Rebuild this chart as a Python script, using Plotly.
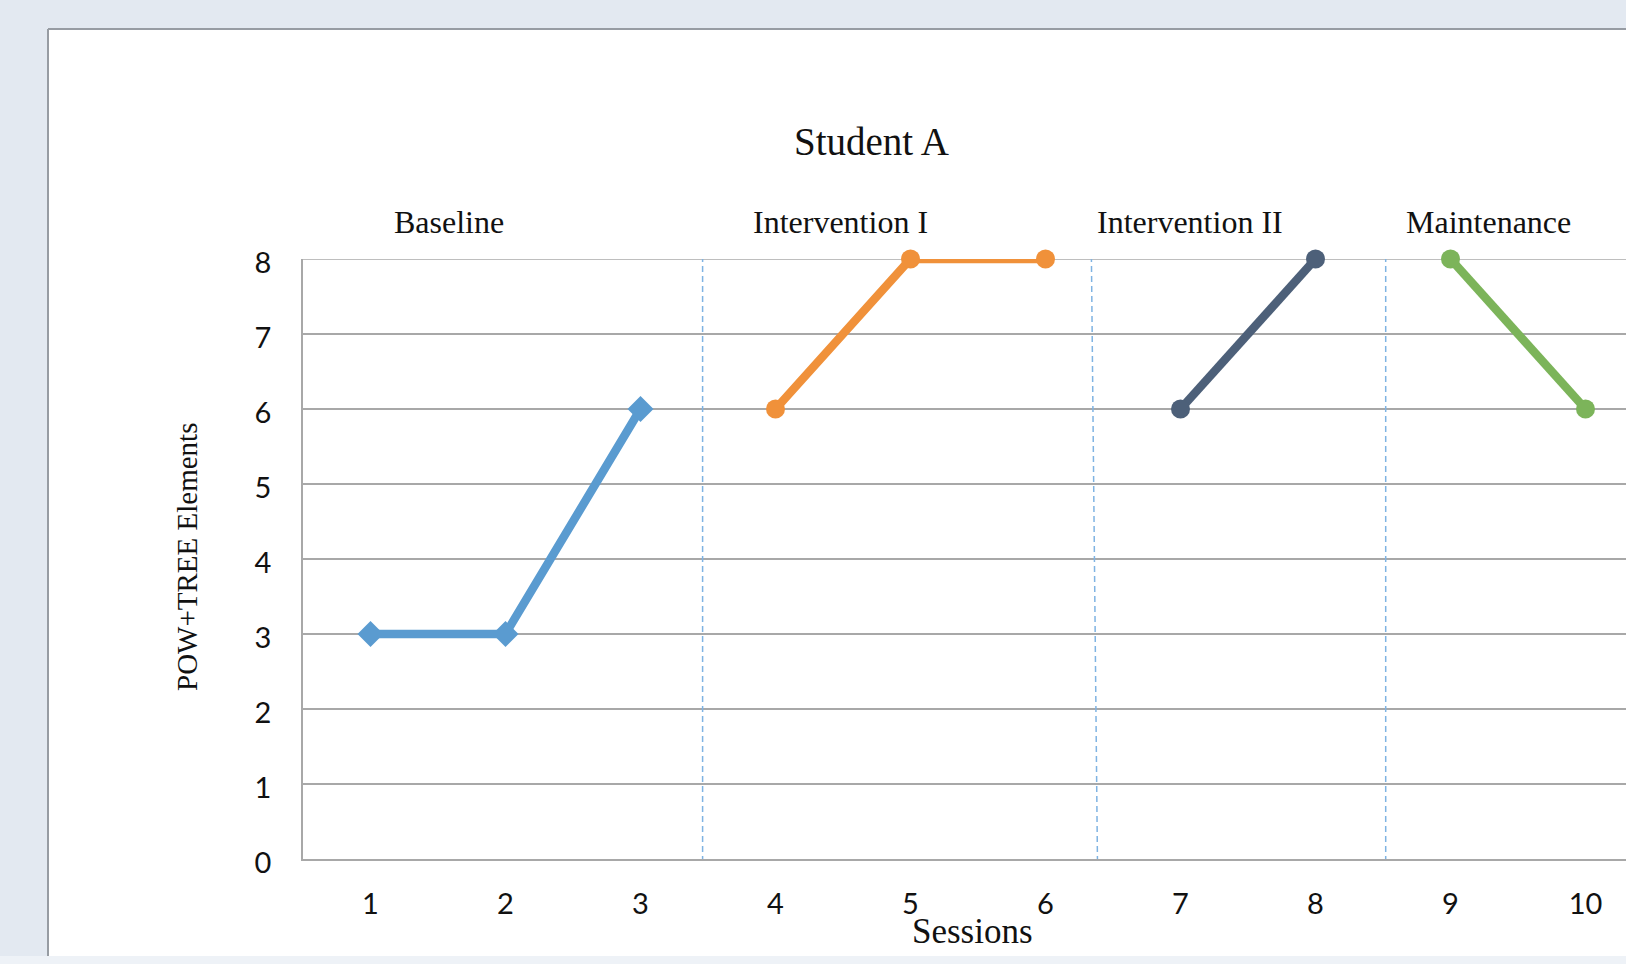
import plotly.graph_objects as go

# Session scores per phase
baseline_x = [1, 2, 3]
baseline_y = [3, 3, 6]
interv1_x = [4, 5, 6]
interv1_y = [6, 8, 8]
interv2_x = [7, 8]
interv2_y = [6, 8]
maint_x = [9, 10]
maint_y = [8, 6]

session_ticks = list(range(1, 11))
phase_names = ["Baseline", "Intervention I", "Intervention II", "Maintenance"]
phase_label_x = [449, 840, 1190, 1488]      # pixel centres of the phase captions
phase_breaks = [(3.46, 3.46), (6.34, 6.385), (8.52, 8.52)]  # (top, bottom) x of dashed dividers

W, H = 1626, 964
L, R, T, B = 303, 0, 259, 105
PW, PH = W - L - R, H - T - B
X_MAX = 0.5 + PW / 135.0


def px(x):
    return (x - L) / PW


def py(y):
    return (H - B - y) / PH


serif = "Liberation Serif, Times New Roman, serif"
sans = "Lato, Open Sans, sans-serif"
grid_col = "#a8a8a8"

fig = go.Figure()

series = [
    (baseline_x, baseline_y, "#5a9bd0", "diamond", 20),
    (interv1_x, interv1_y, "#f0913a", "circle", 19),
    (interv2_x, interv2_y, "#4d6079", "circle", 19),
    (maint_x, maint_y, "#7cb45a", "circle", 19),
]
for xs, ys, col, sym, sz in series:
    fig.add_trace(go.Scatter(
        x=xs, y=ys, mode="lines+markers",
        line=dict(color=col, width=8.5),
        marker=dict(color=col, symbol=sym, size=sz),
        cliponaxis=False, showlegend=False, hoverinfo="skip",
    ))

shapes = [
    # white sheet behind the chart
    dict(type="rect", xref="paper", yref="paper", layer="below",
         x0=px(48), x1=px(1700), y0=py(956), y1=py(29),
         fillcolor="white", line=dict(width=0)),
    # light strip at the very bottom
    dict(type="rect", xref="paper", yref="paper", layer="below",
         x0=px(0), x1=px(1700), y0=py(964), y1=py(956),
         fillcolor="#eef2f7", line=dict(width=0)),
    # sheet border (left and top)
    dict(type="line", xref="paper", yref="paper", layer="below",
         x0=px(48), x1=px(48), y0=py(956), y1=py(29),
         line=dict(color="#979ca3", width=2)),
    dict(type="line", xref="paper", yref="paper", layer="below",
         x0=px(48), x1=px(1700), y0=py(29), y1=py(29),
         line=dict(color="#979ca3", width=2)),
    # top gridline at the axis maximum
    dict(type="line", xref="x", yref="y", layer="below",
         x0=0.5, x1=X_MAX, y0=8, y1=8,
         line=dict(color=grid_col, width=1.5)),
]
for xt, xb in phase_breaks:
    shapes.append(dict(type="line", xref="x", yref="y", layer="above",
                       x0=xt, x1=xb, y0=8.04, y1=-0.06,
                       line=dict(color="#7fb3e2", width=1.5, dash="6px,4px")))

annotations = [
    dict(text="Student A", x=px(871), y=py(142), xref="paper", yref="paper",
         showarrow=False, font=dict(family=serif, size=39, color="#111111"),
         xanchor="center", yanchor="middle"),
    dict(text="POW+TREE Elements", x=px(187), y=py(557), xref="paper", yref="paper",
         showarrow=False, textangle=-90, font=dict(family=serif, size=29, color="#111111"),
         xanchor="center", yanchor="middle"),
    dict(text="Sessions", x=px(972), y=py(931), xref="paper", yref="paper",
         showarrow=False, font=dict(family=serif, size=35, color="#111111"),
         xanchor="center", yanchor="middle"),
]
for name, lx in zip(phase_names, phase_label_x):
    annotations.append(dict(text=name, x=px(lx), y=py(222), xref="paper", yref="paper",
                            showarrow=False, font=dict(family=serif, size=32, color="#111111"),
                            xanchor="center", yanchor="middle"))

fig.update_layout(
    width=W, height=H,
    margin=dict(l=L, r=R, t=T, b=B, pad=0),
    paper_bgcolor="#e3e9f1",
    plot_bgcolor="white",
    shapes=shapes,
    annotations=annotations,
    xaxis=dict(range=[0.5, X_MAX], tickvals=session_ticks,
               ticktext=[str(v) for v in session_ticks],
               showgrid=False, zeroline=False, showline=True,
               linecolor=grid_col, linewidth=1.5, ticks="",
               ticklabelstandoff=18,
               tickfont=dict(family=sans, size=29, color="#111111")),
    yaxis=dict(range=[0, 8], tickvals=list(range(0, 9)),
               showgrid=True, gridcolor=grid_col, gridwidth=1.5,
               zeroline=False, showline=True, linecolor=grid_col, linewidth=1.5,
               ticks="", ticklabelstandoff=24, ticklabelshift=4,
               tickfont=dict(family=sans, size=29, color="#111111")),
)

fig.write_html("out.html")
